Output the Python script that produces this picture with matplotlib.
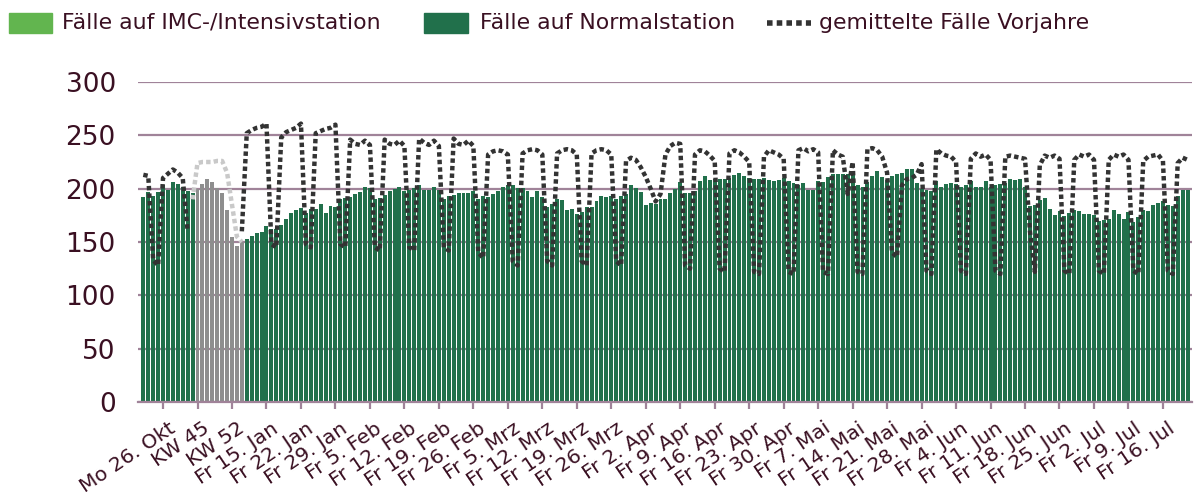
import numpy as np
import matplotlib
matplotlib.use('Agg')
import matplotlib.pyplot as plt
from matplotlib.lines import Line2D
from matplotlib.patches import Rectangle
from matplotlib.transforms import ScaledTranslation

nan = np.nan

tick_labels = ["Mo 26. Okt", "KW 45", "KW 52", "Fr 15. Jan", "Fr 22. Jan", "Fr 29. Jan",
               "Fr 5. Feb", "Fr 12. Feb", "Fr 19. Feb", "Fr 26. Feb", "Fr 5. Mrz",
               "Fr 12. Mrz", "Fr 19. Mrz", "Fr 26. Mrz", "Fr 2. Apr", "Fr 9. Apr",
               "Fr 16. Apr", "Fr 23. Apr", "Fr 30. Apr", "Fr 7. Mai", "Fr 14. Mai",
               "Fr 21. Mai", "Fr 28. Mai", "Fr 4. Jun", "Fr 11. Jun", "Fr 18. Jun",
               "Fr 25. Jun", "Fr 2. Jul", "Fr 9. Jul", "Fr 16. Jul"]

# daily values (weekly values KW 45 - KW 1 in the grey block)
normal_ward = [
    192, 197, 193, 197, 203, 199, 206, 204, 202, 198, 196,
    200, 204, 209, 206, 201, 196, 180, 155, 146, 150,
    153, 156, 158, 159, 165, 162, 162, 166, 172, 177, 180, 182, 177,
    181, 181, 186, 177, 184, 183, 190, 191, 192, 195, 197, 202, 201, 190, 191, 194,
    198, 200, 202, 198, 199, 201, 203, 199, 199, 202, 199, 190, 193, 194, 196, 196,
    196, 198, 190, 193,
    192, 195, 198, 202, 203, 203, 201, 201, 198, 192, 198, 192, 183, 186, 190, 189,
    180, 181, 176, 178, 183, 183, 188, 193, 192, 193, 190, 193, 195, 203, 201, 197,
    185, 187, 186, 190,
    190, 196, 200, 206, 196, 196, 198, 207, 212, 208, 209, 209, 209, 210, 213, 215,
    212, 210, 209, 209, 210, 208, 207, 208, 210, 207, 205, 203, 205, 199, 199, 207,
    206, 211, 214, 214,
    214, 214, 217, 203, 202, 206, 212, 217, 211, 208, 212, 214, 215, 218, 218, 205,
    200, 199, 198, 207, 202, 204, 205, 204, 202, 203, 207, 202, 202, 207, 202, 203,
    204, 205, 209,
    208, 209, 202, 184, 185, 189, 191, 181, 175, 179, 174, 177, 180, 179, 176, 176,
    175, 170, 171, 172, 180, 176, 172, 178, 169, 173, 180, 179, 185, 187, 188, 185,
    184, 193, 199, 199,
]

previous_years = [
    213, 212, 133, 128, 210, 214, 218, 215, 210, 160,
    nan, nan, nan, nan, nan, nan, nan, nan, nan, nan,
    160,
    252, 255, 257, 258, 261, 148, 145,
    248, 253, 255, 257, 261, 148, 145,
    252, 254, 256, 257, 260, 148, 145,
    246, 242, 241, 245, 241, 145, 142,
    246, 242, 241, 245, 240, 145, 142,
    247, 243, 241, 245, 240, 145, 142,
    247, 242, 241, 245, 240, 140, 135,
    232, 235, 236, 235, 232, 132, 128,
    233, 236, 237, 236, 232, 132, 128,
    233, 236, 237, 236, 232, 132, 128,
    233, 236, 237, 236, 232, 132, 128,
    226, 229, 227, 220, 211, 200, 188,
    195,
    232, 240, 243, 242, 128, 125,
    232, 236, 235, 231, 226, 125, 122,
    233, 236, 234, 230, 225, 122, 120,
    230, 236, 234, 232, 228, 122, 120,
    236, 238, 235, 237, 234, 122, 120,
    236, 232, 230, 195, 225, 122, 120,
    237, 238, 236, 230, 215, 140, 136,
    203, 209, 210, 213, 223, 123, 120,
    237, 233, 231, 230, 225, 123, 120,
    228, 233, 230, 232, 227, 123, 120,
    230, 231, 230, 229, 228, 160, 122,
    222, 231, 229, 231, 228, 123, 120,
    227, 232, 230, 232, 227, 123, 120,
    227, 232, 230, 232, 227, 123, 120,
    226, 230, 231, 232, 226, 123, 120,
    224, 229, 227,
]

previous_years_weekly = [nan] * 10 + [190, 224, 225, 225, 225, 226, 226, 215, 185, 155, 150] + [nan] * 192

weekly_block = (11, 20)   # indices of the weekly (grey) bars

GREEN_DARK = '#21704B'
GREEN_LIGHT = '#62B54F'
GREY_BAR = '#8E8E8E'
GRID = '#A08399'
TXT = '#3A1022'
LINE = '#333333'

W, H = 1199, 497
fig = plt.figure(figsize=(W / 100, H / 100), dpi=100)
ax = fig.add_axes([138 / W, 1 - 402 / H, (1192 - 138) / W, (402 - 82) / H])

x = np.arange(len(normal_ward))
colors = [GREY_BAR if weekly_block[0] <= i <= weekly_block[1] else GREEN_DARK for i in x]
ax.bar(x, normal_ward, width=0.8, color=colors, zorder=2, linewidth=0)
dots = (0, (1.0, 0.7))
ax.plot(x, previous_years, color=LINE, lw=3.2, ls=dots, zorder=3, dash_capstyle='butt')
ax.plot(x, previous_years_weekly, color='#C9C9C9', lw=3.2, ls=dots, zorder=3, dash_capstyle='butt')

ax.set_ylim(0, 300)
ax.set_xlim(-1.08, 212.9)
ax.set_yticks(range(0, 301, 50))
ax.yaxis.grid(True, color=GRID, lw=1.6, zorder=0)
ax.set_axisbelow(True)
for s in ['top', 'right', 'left']:
    ax.spines[s].set_visible(False)
ax.spines['bottom'].set_color(GRID)
ax.spines['bottom'].set_linewidth(1.6)
ax.tick_params(axis='y', length=0, labelsize=19, labelcolor=TXT, pad=16)

tick_pos = 4 + 7 * np.arange(len(tick_labels))
ax.set_xticks(tick_pos)
ax.set_xticklabels(tick_labels, rotation=34, ha='right', va='top', rotation_mode='anchor')
ax.tick_params(axis='x', length=5, width=1.6, color=GRID, labelsize=14.6, labelcolor=TXT, pad=7)
shift = ScaledTranslation(5 / 100, 0, fig.dpi_scale_trans)
for lbl in ax.get_xticklabels():
    lbl.set_transform(lbl.get_transform() + shift)

# legend drawn at the top of the figure
def fx(px):
    return px / W

def fy(py):
    return 1 - py / H

leg_fs = 15.8
leg_y = 23
fig.patches.append(Rectangle((fx(9), fy(33)), 43 / W, 20 / H, transform=fig.transFigure,
                             color=GREEN_LIGHT, figure=fig))
fig.text(fx(62), fy(leg_y), "Fälle auf IMC-/Intensivstation", fontsize=leg_fs, color=TXT,
         va='center', ha='left')
fig.patches.append(Rectangle((fx(424), fy(33)), 44 / W, 20 / H, transform=fig.transFigure,
                             color=GREEN_DARK, figure=fig))
fig.text(fx(480), fy(leg_y), "Fälle auf Normalstation", fontsize=leg_fs, color=TXT,
         va='center', ha='left')
fig.lines.append(Line2D([fx(767), fx(811)], [fy(leg_y), fy(leg_y)], transform=fig.transFigure,
                        color=LINE, lw=4, ls=(0, (1.0, 0.75)), dash_capstyle='butt', figure=fig))
fig.text(fx(819), fy(leg_y), "gemittelte Fälle Vorjahre", fontsize=leg_fs, color=TXT,
         va='center', ha='left')

fig.savefig('out.png', dpi=100)
